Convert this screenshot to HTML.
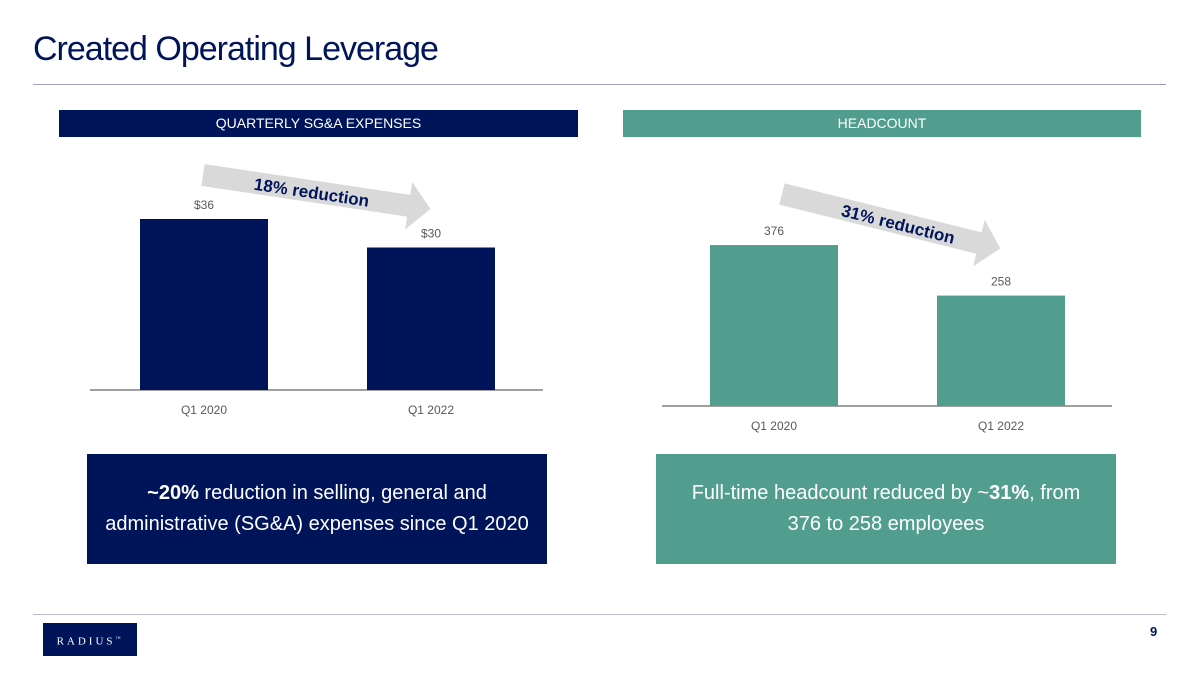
<!DOCTYPE html>
<html><head><meta charset="utf-8"><style>
body{margin:0;background:#fff;font-family:"Liberation Sans",sans-serif;}
#c{position:relative;width:1200px;height:675px;overflow:hidden;}
.abs{position:absolute;}
</style></head><body>
<div id="c">
<div class="abs" style="left:33px;top:30px;font-size:34px;color:#00145A;letter-spacing:-1px;font-family:'Liberation Sans Narrow','Liberation Sans',sans-serif;">Created Operating Leverage</div>
<div class="abs" style="left:33px;top:84px;width:1133px;height:1px;background:#9aa1bb"></div>
<div class="abs" style="left:59px;top:110px;width:519px;height:27px;background:#00145A;color:#fff;font-size:14px;line-height:27px;text-align:center">QUARTERLY SG&amp;A EXPENSES</div>
<div class="abs" style="left:623px;top:110px;width:518px;height:27px;background:#529E8E;color:#fff;font-size:14px;line-height:27px;text-align:center">HEADCOUNT</div>
<svg class="abs" style="left:0;top:0" width="1200" height="675" id="svg"></svg>
<div class="abs" style="left:87px;top:454px;width:460px;height:110px;background:#00145A;color:#fff;font-size:20px;line-height:31px;text-align:center;display:flex;align-items:center;justify-content:center"><div><b>~20%</b> reduction in selling, general and<br>administrative (SG&amp;A) expenses since Q1 2020</div></div>
<div class="abs" style="left:656px;top:454px;width:460px;height:110px;background:#529E8E;color:#fff;font-size:20px;line-height:31px;text-align:center;display:flex;align-items:center;justify-content:center"><div>Full-time headcount reduced by ~<b>31%</b>, from<br>376 to 258 employees</div></div>
<div class="abs" style="left:33px;top:614px;width:1133px;height:1px;background:#b8bccb"></div>
<div class="abs" style="left:43px;top:623px;width:94px;height:33px;background:#00145A;color:#fff;font-family:'Liberation Serif',serif;font-size:11px;letter-spacing:3px;line-height:33px;text-align:center">RADIUS<sup style="font-size:5px">™</sup></div>
<div class="abs" style="left:1150px;top:624px;font-size:13px;font-weight:bold;color:#00145A">9</div>
</div>
<script>
const sgaCats=["Q1 2020","Q1 2022"];
const sgaVals=[36,30];
const sgaLabels=["$36","$30"];
const hcCats=["Q1 2020","Q1 2022"];
const hcVals=[376,258];
const hcLabels=["376","258"];
const NS="http://www.w3.org/2000/svg";
const svg=document.getElementById('svg');
function mk(t,a){const e=document.createElementNS(NS,t);for(const k in a)e.setAttribute(k,a[k]);svg.appendChild(e);return e;}
function chart(cats,vals,labels,x0,x1,base,scale,barX,color,key){
  let ax=mk('line',{x1:x0,x2:x1,y1:base,y2:base,stroke:'#808080','stroke-width':1.5});
  
  
  vals.forEach((v,i)=>{
    const h=v*scale;
    let r=mk('rect',{x:barX[i],y:base-h,width:128,height:h,fill:color});
    
    
    let t=mk('text',{x:barX[i]+64,y:base-h-10,'text-anchor':'middle','font-size':12,fill:'#595959'});
    t.textContent=labels[i];
    
    
    let c=mk('text',{x:barX[i]+64,y:base+24,'text-anchor':'middle','font-size':12,fill:'#595959'});
    c.textContent=cats[i];
    
    
  });
}
chart(sgaCats,sgaVals,sgaLabels,90,543,390,4.75,[140,367],'#00145A','sga');
chart(hcCats,hcVals,hcLabels,662,1112,406,0.428,[710,937],'#529E8E','headcount');
function arrow(x,y,len,ang,txt,key,tx){
  const g=mk('g',{transform:`translate(${x},${y}) rotate(${ang})`});
  
  
  const p=document.createElementNS(NS,'polygon');
  p.setAttribute('points',`0,-11 ${len-22},-11 ${len-22},-24 ${len},0 ${len-22},24 ${len-22},11 0,11`);
  p.setAttribute('fill','#d9d9d9');g.appendChild(p);
  const t=document.createElementNS(NS,'text');
  t.setAttribute('x',tx);t.setAttribute('y',7);t.setAttribute('font-size',17);
  t.setAttribute('font-weight','bold');t.setAttribute('fill','#00145A');t.setAttribute('text-anchor','middle');
  t.textContent=txt;g.appendChild(t);
}
arrow(203,175,230,8.5,'18% reduction','sga-reduction-arrow',110);
arrow(782,194,225,14,'31% reduction','headcount-reduction-arrow',120);
</script>
</body></html>
